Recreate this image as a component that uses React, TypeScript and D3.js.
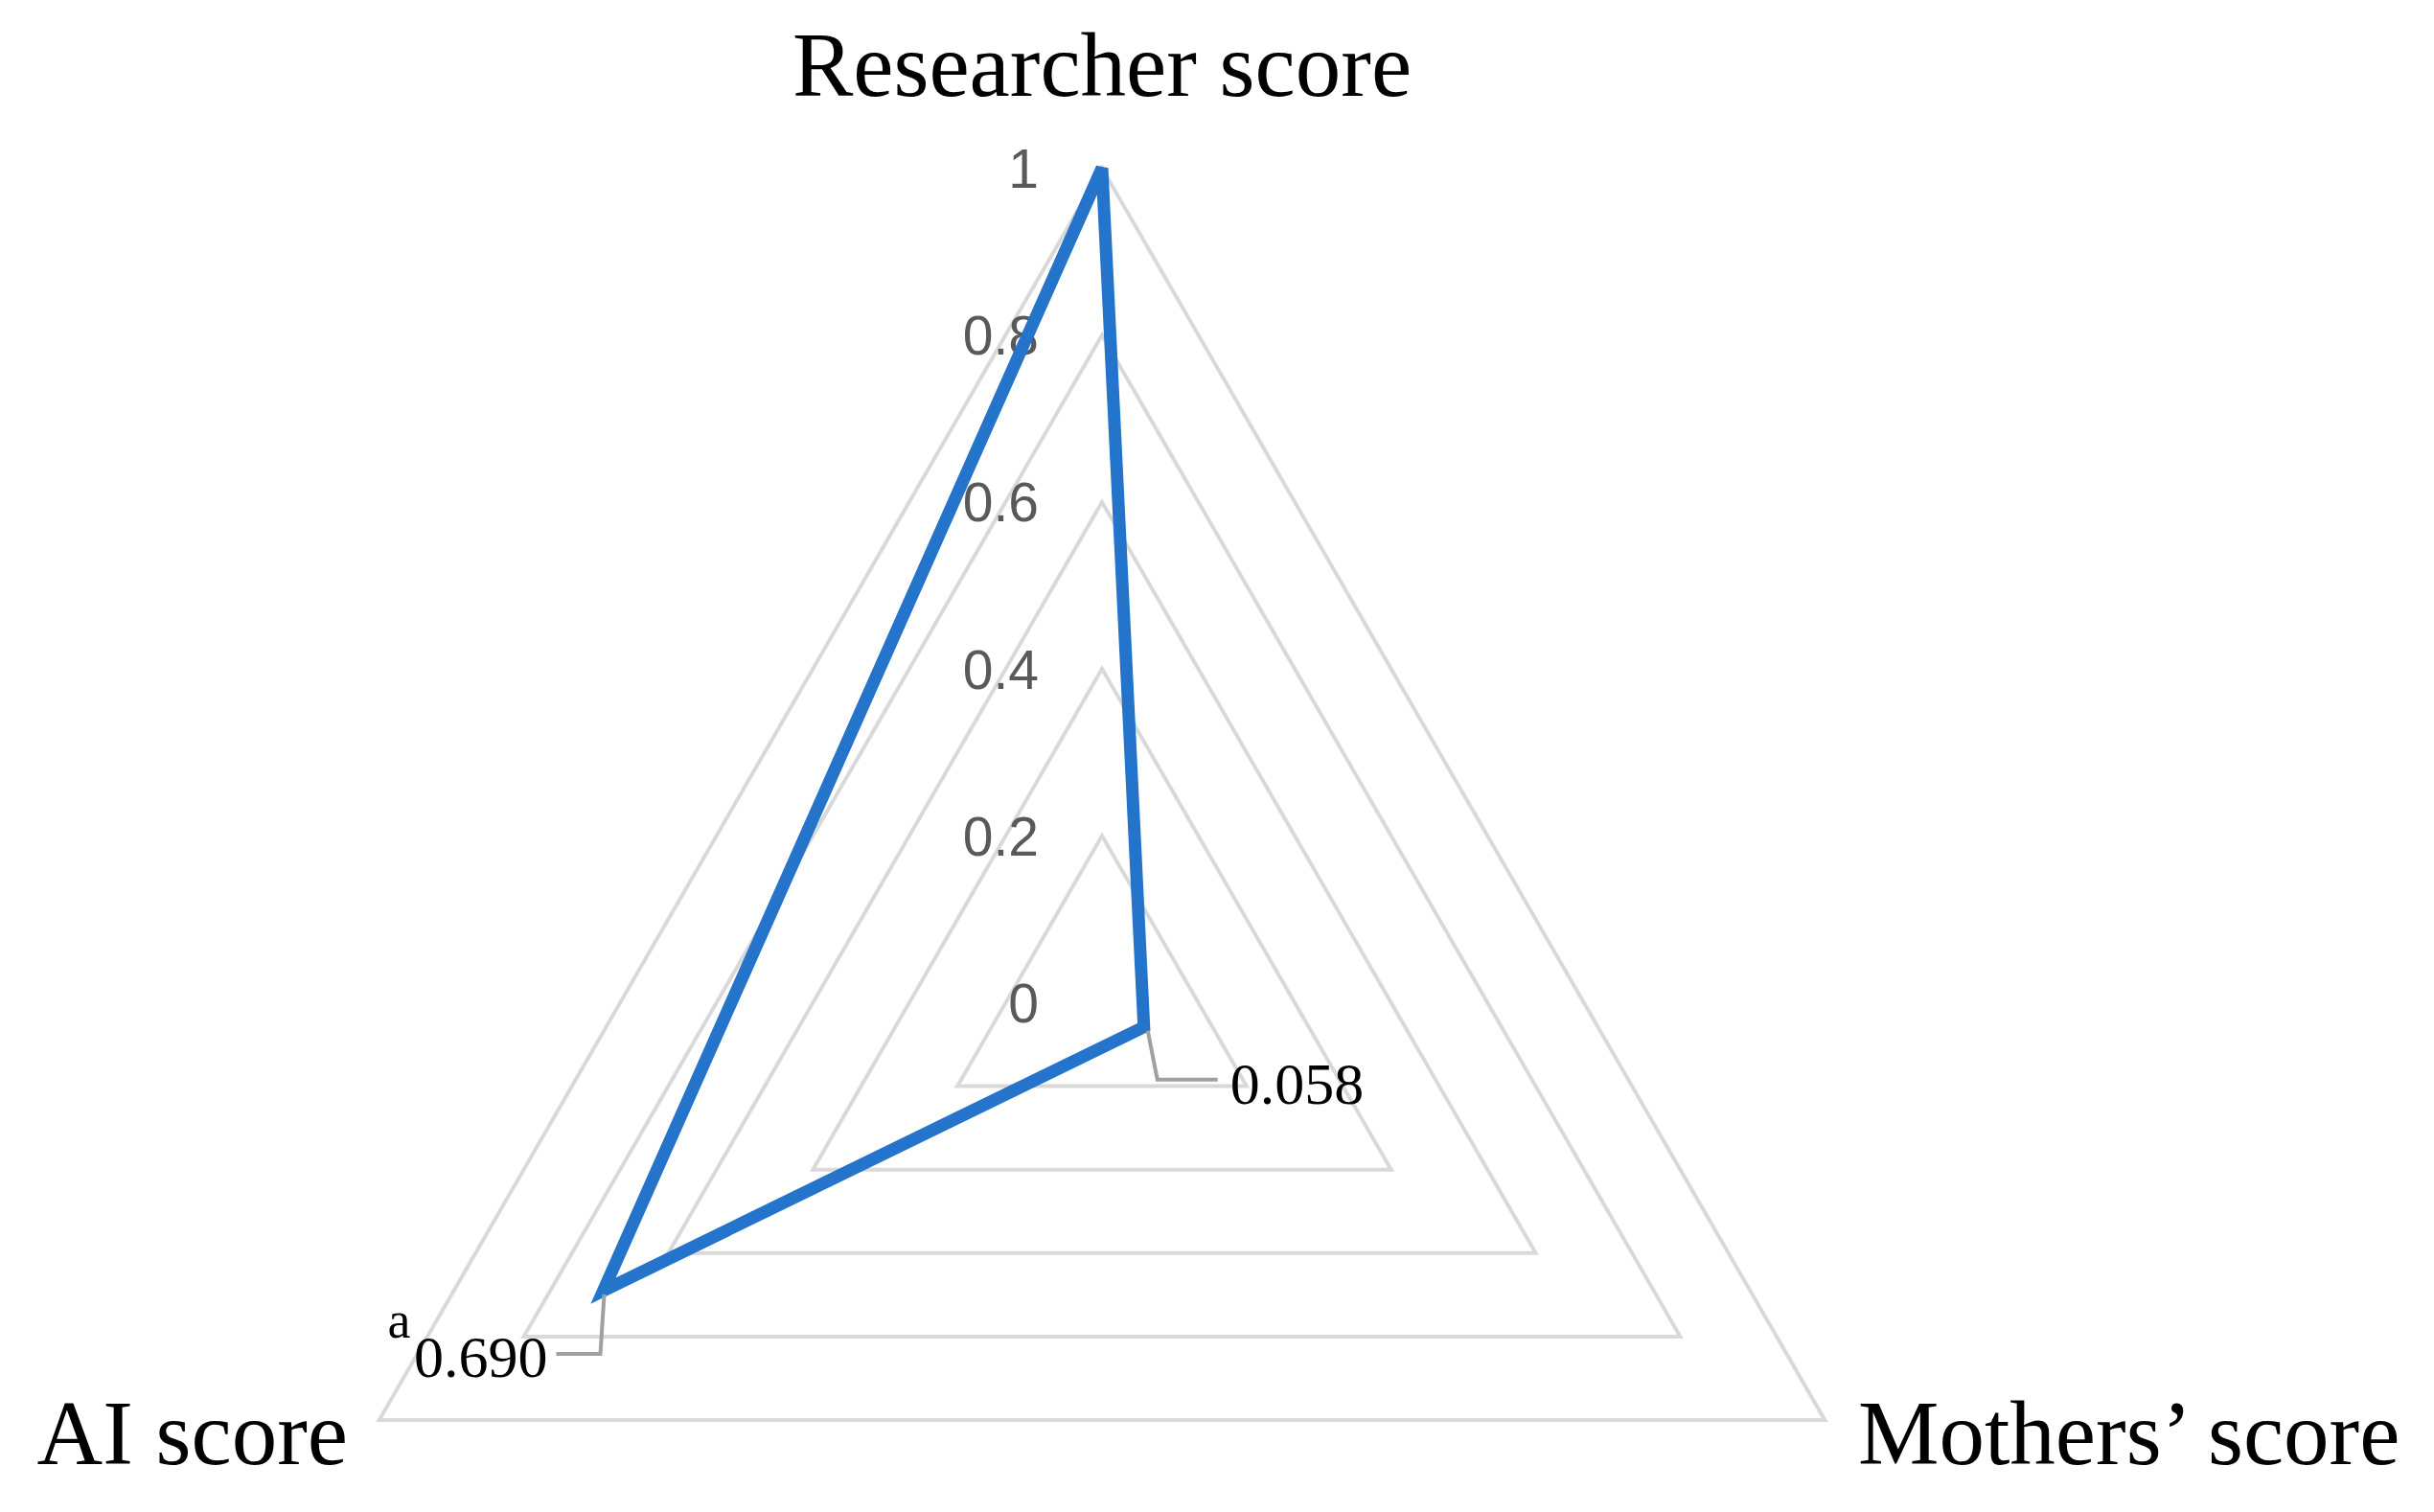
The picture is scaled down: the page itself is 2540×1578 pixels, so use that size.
import React from "react";
import * as d3 from "d3";

const categories = ["Researcher score", "Mothers\u2019 score", "AI score"];
const values = [1, 0.058, 0.69];
const valueLabels = ["", "0.058", "0.690"];
const ticks = [0, 0.2, 0.4, 0.6, 0.8, 1];
const tickLabels = ["0", "0.2", "0.4", "0.6", "0.8", "1"];

const W = 2540;
const H = 1578;
const cx = 1150;
const cy = 1046.5;
const R = 871;

export default function App() {
  const r = d3.scaleLinear().domain([0, 1]).range([0, R]);
  const angle = d3
    .scaleLinear()
    .domain([0, categories.length])
    .range([0, 2 * Math.PI]);
  const pt = (i: number, v: number): [number, number] => {
    const a = angle(i);
    return [cx + r(v) * Math.sin(a), cy - r(v) * Math.cos(a)];
  };
  const radial = d3
    .lineRadial<number>()
    .angle((_, i) => angle(i))
    .radius((d) => r(d))
    .curve(d3.curveLinearClosed);

  const gridPaths = ticks
    .filter((t) => t > 0)
    .map((t) => radial(categories.map(() => t)) as string);
  const seriesPath = radial(values) as string;

  const mPt = pt(1, values[1]);
  const aPt = pt(2, values[2]);

  return (
    <svg
      width={W}
      height={H}
      style={{ position: "absolute", left: 0, top: 0, background: "#fff" }}
    >
      <g transform={`translate(${cx},${cy})`}>
        {gridPaths.map((d, i) => (
          <path key={i} d={d} fill="none" stroke="#d9d9d9" strokeWidth={4} />
        ))}
      </g>
      {ticks.map((t, i) => (
        <text
          key={t}
          x={cx - 66}
          y={cy - r(t)}
          dy="0.36em"
          textAnchor="end"
          fontFamily="Liberation Sans, Arial, sans-serif"
          fontSize={57}
          fill="#595959"
        >
          {tickLabels[i]}
        </text>
      ))}
      <g transform={`translate(${cx},${cy})`}>
        <path
          d={seriesPath}
          fill="none"
          stroke="#2474cc"
          strokeWidth={13}
          strokeLinejoin="miter"
          strokeMiterlimit={4}
        />
      </g>
      {/* leader lines */}
      <polyline
        points={`${mPt[0] + 4},${mPt[1] + 4} ${mPt[0] + 14},${mPt[1] + 55} ${mPt[0] + 77},${mPt[1] + 55}`}
        fill="none"
        stroke="#a0a0a0"
        strokeWidth={4}
      />
      <polyline
        points={`${aPt[0] + 1},${aPt[1] + 4} ${aPt[0] - 3},${aPt[1] + 66} ${aPt[0] - 49},${aPt[1] + 66}`}
        fill="none"
        stroke="#a0a0a0"
        strokeWidth={4}
      />
      <text
        x={mPt[0] + 90}
        y={mPt[1] + 80}
        fontFamily="Liberation Serif, Times New Roman, serif"
        fontSize={62}
        fill="#000"
      >
        {valueLabels[1]}
      </text>
      <text
        x={aPt[0] - 58}
        y={aPt[1] + 90}
        textAnchor="end"
        fontFamily="Liberation Serif, Times New Roman, serif"
        fontSize={62}
        fill="#000"
      >
        {valueLabels[2]}
      </text>
      <text
        x={aPt[0] - 225}
        y={aPt[1] + 49}
        fontFamily="Liberation Serif, Times New Roman, serif"
        fontSize={54}
        fill="#000"
      >
        a
      </text>
      {/* category labels */}
      <text
        x={cx}
        y={100}
        textAnchor="middle"
        fontFamily="Liberation Serif, Times New Roman, serif"
        fontSize={95}
        fill="#000"
      >
        {categories[0]}
      </text>
      <text
        x={1939}
        y={1528}
        fontFamily="Liberation Serif, Times New Roman, serif"
        fontSize={95}
        fill="#000"
      >
        {categories[1]}
      </text>
      <text
        x={363}
        y={1528}
        textAnchor="end"
        fontFamily="Liberation Serif, Times New Roman, serif"
        fontSize={95}
        fill="#000"
      >
        {categories[2]}
      </text>
    </svg>
  );
}
